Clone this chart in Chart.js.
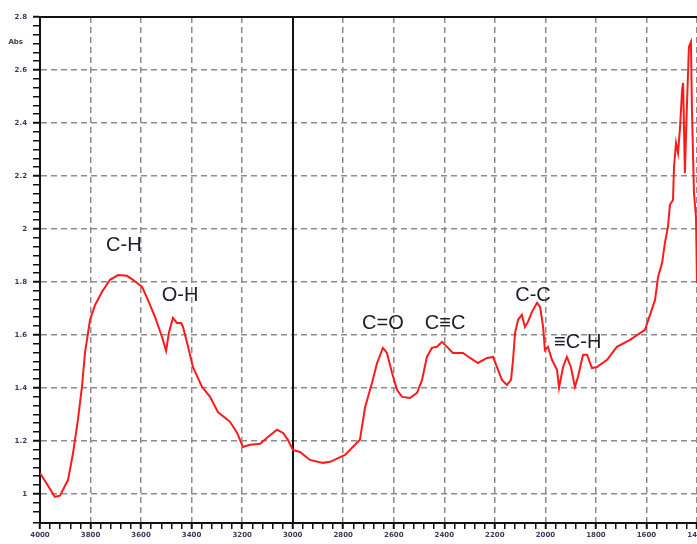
<!DOCTYPE html>
<html>
<head>
<meta charset="utf-8">
<script src="https://cdn.jsdelivr.net/npm/chart.js@4.4.0/dist/chart.umd.min.js"></script>
<style>
  html, body { margin: 0; padding: 0; background: #fff; }
  #wrap { width: 697px; height: 544px; }
</style>
</head>
<body>
<div id="wrap"><canvas id="spectrum" width="697" height="544"></canvas></div>
<script>
// spectrum (wavenumber, absorbance)
const wavenumbers = [
  4000, 3941, 3921, 3889, 3869, 3850, 3834, 3822, 3802, 3782,
  3755, 3723, 3691, 3656, 3632, 3596, 3573, 3545, 3517, 3501,
  3490, 3474, 3458, 3442, 3434, 3414, 3395, 3359, 3327, 3296,
  3248, 3220, 3197, 3169, 3129, 3098, 3062, 3038, 3019, 2999,
  2971, 2932, 2880, 2852, 2793, 2734, 2714, 2686, 2666, 2643,
  2627, 2607, 2587, 2567, 2536, 2508, 2488, 2469, 2449, 2429,
  2409, 2389, 2366, 2326, 2298, 2267, 2231, 2207, 2192, 2172,
  2152, 2136, 2128, 2120, 2108, 2093, 2081, 2069, 2053, 2033,
  2021, 2009, 2002, 1990, 1974, 1954, 1946, 1930, 1915, 1899,
  1883, 1871, 1851, 1835, 1816, 1796, 1756, 1717, 1665, 1606,
  1566, 1554, 1538, 1527, 1515, 1507, 1495, 1491, 1483, 1475,
  1467, 1459, 1455, 1448, 1440, 1432, 1424, 1420, 1412, 1404,
  1400
];
const absorbance = [
  1.079, 0.989, 0.993, 1.053, 1.155, 1.279, 1.404, 1.532, 1.657, 1.713,
  1.762, 1.808, 1.826, 1.823, 1.808, 1.781, 1.732, 1.668, 1.592, 1.540,
  1.608, 1.664, 1.645, 1.645, 1.630, 1.555, 1.479, 1.404, 1.366, 1.309,
  1.272, 1.230, 1.177, 1.185, 1.189, 1.215, 1.242, 1.230, 1.204, 1.166,
  1.158, 1.128, 1.117, 1.121, 1.147, 1.204, 1.325, 1.419, 1.494, 1.551,
  1.532, 1.457, 1.392, 1.366, 1.362, 1.381, 1.430, 1.517, 1.551, 1.555,
  1.574, 1.555, 1.532, 1.532, 1.513, 1.494, 1.513, 1.517, 1.479, 1.430,
  1.411, 1.430, 1.506, 1.608, 1.657, 1.676, 1.630, 1.649, 1.687, 1.721,
  1.706, 1.630, 1.543, 1.555, 1.506, 1.468, 1.400, 1.479, 1.517, 1.479,
  1.404, 1.442, 1.525, 1.525, 1.475, 1.479, 1.506, 1.555, 1.581, 1.619,
  1.732, 1.819, 1.872, 1.947, 2.008, 2.091, 2.109, 2.234, 2.325, 2.287,
  2.385, 2.525, 2.551, 2.211, 2.460, 2.687, 2.706, 2.449, 2.136, 2.045,
  1.796
];

// tick labels
const xTickValues = [4000, 3800, 3600, 3400, 3200, 3000, 2800, 2600, 2400, 2200, 2000, 1800, 1600, 1400];
const xTickLabels = ['4000', '3800', '3600', '3400', '3200', '3000', '2800', '2600', '2400', '2200', '2000', '1800', '1600', '1400'];
const yTickValues = [1, 1.2, 1.4, 1.6, 1.8, 2, 2.2, 2.4, 2.6, 2.8];
const yTickLabels = ['1', '1.2', '1.4', '1.6', '1.8', '2', '2.2', '2.4', '2.6', '2.8'];
const unitLabel = 'Abs';

// peak names and where they sit (wavenumber, absorbance)
const peakNames = ['C-H', 'O-H', 'C=O', 'C\u2261C', 'C-C', '\u2261C-H'];
const peakAtX = [3668, 3446, 2643, 2397, 2049, 1872];
const peakAtY = [1.936, 1.747, 1.642, 1.642, 1.747, 1.570];

const markerLine = 3000; // solid cursor line

const findLabel = (values, labels, v) => {
  const i = values.findIndex(t => Math.abs(t - v) < 1e-6);
  return i >= 0 ? labels[i] : '';
};
const isMajor = (values, v) => values.some(t => Math.abs(t - v) < 1e-6);

const extras = {
  id: 'extras',
  beforeDatasetsDraw(chart) {
    const { ctx, chartArea: a, scales: { x } } = chart;
    ctx.save();
    ctx.strokeStyle = '#111';
    ctx.lineWidth = 2;
    const px = Math.round(x.getPixelForValue(markerLine));
    ctx.beginPath();
    ctx.moveTo(px, a.top);
    ctx.lineTo(px, a.bottom);
    ctx.stroke();
    ctx.lineWidth = 2;
    ctx.beginPath();
    ctx.moveTo(a.left, a.top);
    ctx.lineTo(a.right, a.top);
    ctx.stroke();
    ctx.restore();
  },
  afterDatasetsDraw(chart) {
    const { ctx, scales: { x, y } } = chart;
    ctx.save();
    ctx.font = '20px "Liberation Sans", Arial, sans-serif';
    ctx.fillStyle = '#1d1d2b';
    ctx.textAlign = 'center';
    ctx.textBaseline = 'middle';
    peakNames.forEach((name, i) => {
      ctx.fillText(name, x.getPixelForValue(peakAtX[i]), y.getPixelForValue(peakAtY[i]));
    });
    // tiny unit label beside the y axis
    ctx.font = 'bold 7px "DejaVu Sans", sans-serif';
    ctx.fillStyle = '#3a3a5c';
    ctx.textAlign = 'right';
    ctx.fillText(unitLabel, 23, 42);
    ctx.restore();
  }
};

const ctx = document.getElementById('spectrum').getContext('2d');
new Chart(ctx, {
  type: 'line',
  data: {
    datasets: [{
      data: wavenumbers.map((w, i) => ({ x: w, y: absorbance[i] })),
      borderColor: '#ff1a1a',
      borderWidth: 2,
      pointRadius: 0,
      tension: 0,
      fill: false
    }]
  },
  options: {
    responsive: false,
    animation: false,
    layout: { padding: { top: 17, left: 0, right: 0, bottom: 0 } },
    plugins: { legend: { display: false }, tooltip: { enabled: false } },
    scales: {
      x: {
        type: 'linear',
        reverse: true,
        min: 1400,
        max: 4000,
        afterFit: (scale) => {
          scale.height = 21;
          scale.paddingLeft = 0;
          scale.paddingRight = 0;
        },
        border: { color: '#111', width: 2, dash: [6, 4] },
        grid: {
          color: (c) => (c.tick && isMajor(xTickValues, c.tick.value) && Math.abs(c.tick.value - markerLine) > 1 && c.tick.value < 4000) ? '#8c8c8c' : 'rgba(0,0,0,0)',
          lineWidth: 1.5,
          tickColor: '#111',
          tickWidth: (c) => (c.tick && isMajor(xTickValues, c.tick.value)) ? 2 : 1.5,
          tickLength: 6,
          tickBorderDash: []
        },
        ticks: {
          stepSize: 40,
          autoSkip: false,
          maxRotation: 0,
          padding: 2,
          color: '#3a3a5c',
          font: { family: '"DejaVu Sans", sans-serif', size: 7, weight: 'bold' },
          callback: (v) => findLabel(xTickValues, xTickLabels, v)
        }
      },
      y: {
        min: 0.89,
        max: 2.8,
        afterFit: (scale) => {
          scale.width = 40;
          scale.paddingTop = 0;
          scale.paddingBottom = 0;
        },
        border: { color: '#111', width: 2, dash: [6, 4] },
        grid: {
          color: (c) => (c.tick && isMajor(yTickValues, c.tick.value)) ? '#8c8c8c' : 'rgba(0,0,0,0)',
          lineWidth: 1.5,
          tickColor: '#111',
          tickWidth: (c) => (c.tick && isMajor(yTickValues, c.tick.value)) ? 2 : 1.5,
          tickLength: 7,
          tickBorderDash: []
        },
        ticks: {
          stepSize: 1 / 30,
          autoSkip: false,
          padding: 6,
          color: '#3a3a5c',
          font: { family: '"DejaVu Sans", sans-serif', size: 7, weight: 'bold' },
          callback: (v) => findLabel(yTickValues, yTickLabels, v)
        }
      }
    }
  },
  plugins: [extras]
});
</script>
</body>
</html>
